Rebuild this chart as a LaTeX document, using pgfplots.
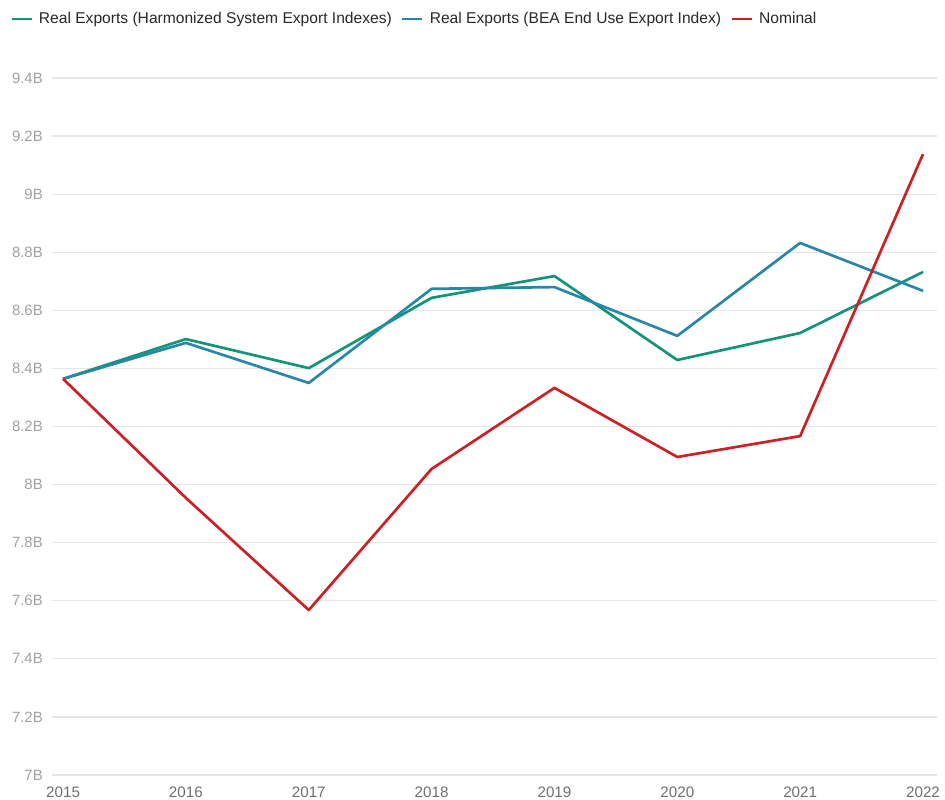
\documentclass[border=0pt]{standalone}
\usepackage{pgfplots}
\pgfplotsset{compat=1.18}
\usepackage{fontspec}
\setmainfont{Liberation Sans}
\definecolor{cgreen}{RGB}{20,148,118}
\definecolor{cblue}{RGB}{40,134,166}
\definecolor{cred}{RGB}{204,32,36}
\definecolor{cgrid}{RGB}{230,230,230}
\definecolor{ylab}{RGB}{160,160,160}
\definecolor{xlab}{RGB}{110,110,110}
\definecolor{legtext}{RGB}{40,40,40}
\begin{document}
\begin{tikzpicture}
\begin{axis}[
  at={(0,0)}, anchor=south west,
  scale only axis,
  width=663.75pt, height=522.75pt,
  xmin=2014.910, xmax=2022.114,
  ymin=7, ymax=9.4,
  axis line style={draw=none},
  major tick length=0pt,
  ymajorgrids,
  grid style={cgrid, line width=0.9pt},
  xtick={2015,2016,2017,2018,2019,2020,2021,2022},
  xticklabels={2015,2016,2017,2018,2019,2020,2021,2022},
  ytick={7,7.2,7.4,7.6,7.8,8,8.2,8.4,8.6,8.8,9,9.2,9.4},
  yticklabels={7B,7.2B,7.4B,7.6B,7.8B,8B,8.2B,8.4B,8.6B,8.8B,9B,9.2B,9.4B},
  /pgf/number format/assume math mode=true,
  yticklabel style={font=\fontsize{11.2pt}{13pt}\selectfont, text=ylab, anchor=east, inner sep=0pt, xshift=-6.75pt},
  xticklabel style={font=\fontsize{11.4pt}{13pt}\selectfont, text=xlab, anchor=north, inner sep=0pt, yshift=-8.6pt},
  legend columns=3,
  legend style={draw=none, fill=none, at={(0,1)}, anchor=west, xshift=-34.5pt, yshift=44.25pt,
    font=\fontsize{11.7pt}{14pt}\selectfont, text=legtext,
    nodes={inner xsep=4.5pt},
    /tikz/every even column/.append style={column sep=2.5pt}},
  legend image code/.code={\draw[#1, line width=2pt] (0pt,0pt) -- (15pt,0pt);},
  every axis plot/.append style={line width=2pt, mark=none, line join=round},
]
\addplot[cgreen] coordinates {(2015,8.364) (2016,8.501) (2017,8.401) (2018,8.643) (2019,8.718) (2020,8.429) (2021,8.522) (2022,8.732)};
\addlegendentry{Real Exports (Harmonized System Export Indexes)}
\addplot[cblue] coordinates {(2015,8.364) (2016,8.488) (2017,8.350) (2018,8.674) (2019,8.680) (2020,8.512) (2021,8.832) (2022,8.667)};
\addlegendentry{Real Exports (BEA End Use Export Index)}
\addplot[cred] coordinates {(2015,8.364) (2016,7.954) (2017,7.568) (2018,8.054) (2019,8.333) (2020,8.095) (2021,8.167) (2022,9.138)};
\addlegendentry{Nominal}
\end{axis}
\pgfresetboundingbox
\path (-39pt,-18pt) rectangle (669.75pt,581.25pt);
\end{tikzpicture}
\end{document}
